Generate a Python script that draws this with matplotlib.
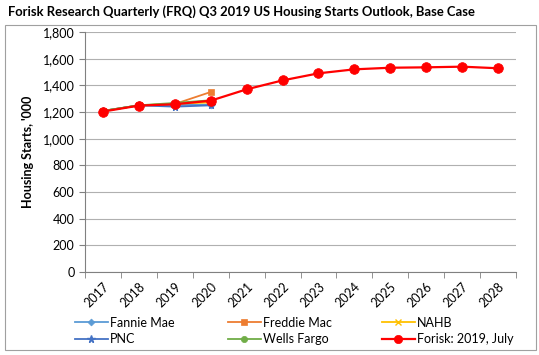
import matplotlib
matplotlib.use("Agg")
import matplotlib.pyplot as plt
from matplotlib.patches import Rectangle
import numpy as np

plt.rcParams['font.family'] = ['Lato', 'DejaVu Sans']

years = [str(y) for y in range(2017, 2029)]
hist_years = years[:4]

fannie_mae = [1208, 1250, 1252, 1255]
freddie_mac = [1208, 1250, 1260, 1350]
nahb = [1208, 1250, 1262, 1272]
pnc = [1208, 1250, 1240, 1250]
wells_fargo = [1208, 1250, 1268, 1288]
forisk = [1203, 1248, 1258, 1285, 1370, 1437, 1490, 1520, 1532, 1535, 1540, 1528]

series = [
    ("Fannie Mae", hist_years, fannie_mae, "#5B9BD5", "D", 3.5),
    ("Freddie Mac", hist_years, freddie_mac, "#ED7D31", "s", 4.5),
    ("NAHB", hist_years, nahb, "#FFC000", "x", 4.5),
    ("PNC", hist_years, pnc, "#4472C4", "*", 5.5),
    ("Wells Fargo", hist_years, wells_fargo, "#70AD47", "o", 4.5),
    ("Forisk: 2019, July", years, forisk, "#FF0000", "o", 7),
]

W, H = 539, 355
fig = plt.figure(figsize=(W / 100, H / 100), dpi=100)
ax = fig.add_axes([85 / W, 1 - 272 / H, (516 - 85) / W, (272 - 32) / H])

fig.patches.append(Rectangle((5 / W, 1 - 350 / H), 531 / W, 325 / H,
                             transform=fig.transFigure, fill=False,
                             edgecolor="#A0A0A0", linewidth=0.8))

x = np.arange(len(years))
lines = []
for name, xs, ys, color, marker, ms in series:
    idx = [years.index(v) for v in xs]
    lw = 1.6 if name.startswith("Forisk") else 1.3
    ln, = ax.plot(idx, ys, color=color, marker=marker, markersize=ms, linewidth=lw,
                  label=name, markeredgewidth=1.0 if marker in "x*" else 0.5)
    lines.append(ln)

ax.set_xlim(-0.47, len(years) - 0.53)
ax.set_ylim(0, 1800)
ax.set_yticks(np.arange(0, 1801, 200))
ax.set_yticklabels([f"{v:,}" for v in range(0, 1801, 200)], fontsize=9)
ax.set_xticks(x)
ax.set_xticklabels(years, rotation=45, fontsize=9, ha="right", rotation_mode="anchor")
ax.set_xticks(np.arange(-0.5, len(years), 1), minor=True)
ax.tick_params(axis="x", which="major", length=0, pad=6)
ax.tick_params(axis="x", which="minor", length=4, color="#808080")
ax.tick_params(axis="y", length=4, color="#808080")
ax.grid(axis="y", color="#B0B0B0", linewidth=0.8)
ax.set_axisbelow(True)
for s in ["top", "right"]:
    ax.spines[s].set_visible(False)
for s in ["left", "bottom"]:
    ax.spines[s].set_color("#808080")

ax.set_ylabel("Housing Starts, '000", fontsize=9, fontweight="bold", labelpad=6)

fig.text(8 / W, 1 - 12 / H, "Forisk Research Quarterly (FRQ) Q3 2019 US Housing Starts Outlook, Base Case",
         fontsize=9.4, fontweight="bold", va="center", ha="left")

# legend: three columns, two rows
cols = [(75, [0, 3]), (228, [1, 4]), (382, [2, 5])]
for xpix, ids in cols:
    leg = fig.legend([lines[i] for i in ids], [lines[i].get_label() for i in ids],
                     loc="center left", bbox_to_anchor=(xpix / W, 1 - 331 / H),
                     frameon=False, fontsize=9, handlelength=2.6,
                     labelspacing=0.35, handletextpad=0.2, borderaxespad=0,
                     borderpad=0)
    for h in leg.legend_handles:
        if h.get_label().startswith("Forisk"):
            h.set_markersize(6)

fig.savefig("out.png", dpi=100)
